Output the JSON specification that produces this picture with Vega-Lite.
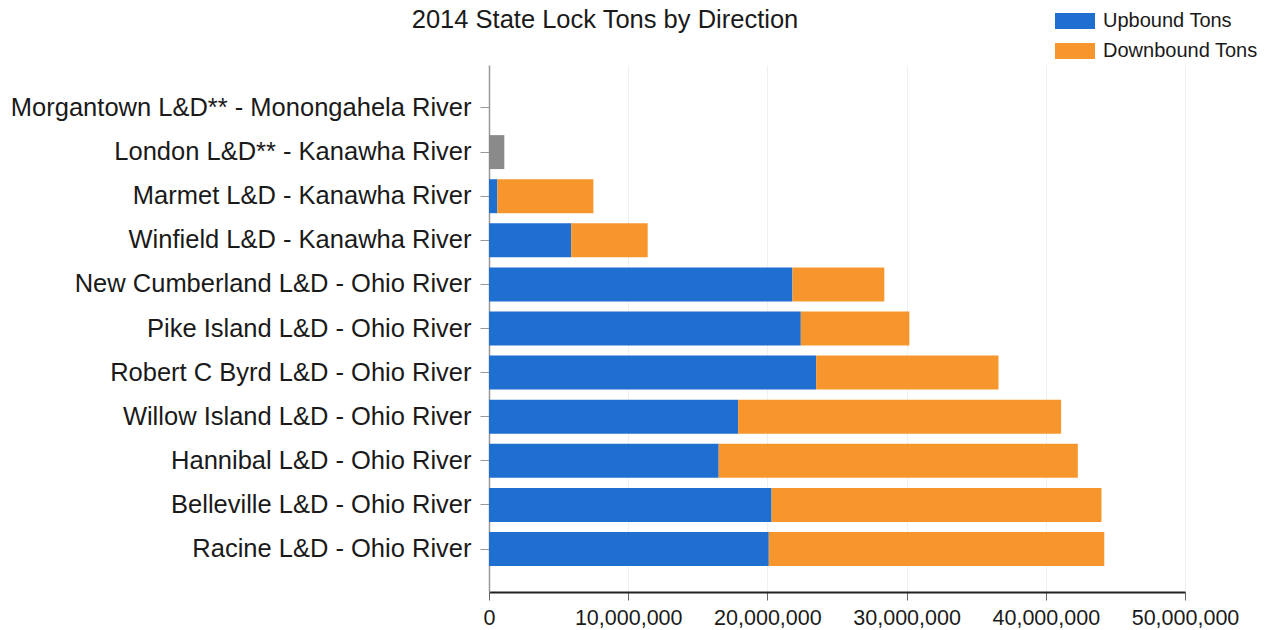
{
  "$schema": "https://vega.github.io/schema/vega-lite/v6.json",
  "autosize": "none",
  "width": 696,
  "height": 527,
  "padding": {"left": 489, "top": 65, "right": 84, "bottom": 38},
  "background": "white",
  "config": {"font": "Liberation Sans", "view": {"stroke": null}},
  "title": {
    "text": "2014 State Lock Tons by Direction",
    "fontSize": 25.5,
    "fontWeight": "normal",
    "color": "#1a1a1a",
    "anchor": "middle",
    "dx": -232,
    "offset": -32
  },
  "data": {
    "values": [
      {"lock": "Morgantown L&D** - Monongahela River", "direction": "Total Tons", "tons": 0},
      {"lock": "London L&D** - Kanawha River", "direction": "Total Tons", "tons": 1100000},
      {"lock": "Marmet L&D - Kanawha River", "direction": "Upbound Tons", "tons": 600000},
      {"lock": "Marmet L&D - Kanawha River", "direction": "Downbound Tons", "tons": 6900000},
      {"lock": "Winfield L&D - Kanawha River", "direction": "Upbound Tons", "tons": 5900000},
      {"lock": "Winfield L&D - Kanawha River", "direction": "Downbound Tons", "tons": 5500000},
      {"lock": "New Cumberland L&D - Ohio River", "direction": "Upbound Tons", "tons": 21800000},
      {"lock": "New Cumberland L&D - Ohio River", "direction": "Downbound Tons", "tons": 6600000},
      {"lock": "Pike Island L&D - Ohio River", "direction": "Upbound Tons", "tons": 22400000},
      {"lock": "Pike Island L&D - Ohio River", "direction": "Downbound Tons", "tons": 7800000},
      {"lock": "Robert C Byrd L&D - Ohio River", "direction": "Upbound Tons", "tons": 23500000},
      {"lock": "Robert C Byrd L&D - Ohio River", "direction": "Downbound Tons", "tons": 13100000},
      {"lock": "Willow Island L&D - Ohio River", "direction": "Upbound Tons", "tons": 17900000},
      {"lock": "Willow Island L&D - Ohio River", "direction": "Downbound Tons", "tons": 23200000},
      {"lock": "Hannibal L&D - Ohio River", "direction": "Upbound Tons", "tons": 16500000},
      {"lock": "Hannibal L&D - Ohio River", "direction": "Downbound Tons", "tons": 25800000},
      {"lock": "Belleville L&D - Ohio River", "direction": "Upbound Tons", "tons": 20300000},
      {"lock": "Belleville L&D - Ohio River", "direction": "Downbound Tons", "tons": 23700000},
      {"lock": "Racine L&D - Ohio River", "direction": "Upbound Tons", "tons": 20100000},
      {"lock": "Racine L&D - Ohio River", "direction": "Downbound Tons", "tons": 24100000}
    ]
  },
  "mark": {"type": "bar"},
  "encoding": {
    "y": {
      "field": "lock",
      "type": "nominal",
      "sort": [
        "Morgantown L&D** - Monongahela River",
        "London L&D** - Kanawha River",
        "Marmet L&D - Kanawha River",
        "Winfield L&D - Kanawha River",
        "New Cumberland L&D - Ohio River",
        "Pike Island L&D - Ohio River",
        "Robert C Byrd L&D - Ohio River",
        "Willow Island L&D - Ohio River",
        "Hannibal L&D - Ohio River",
        "Belleville L&D - Ohio River",
        "Racine L&D - Ohio River"
      ],
      "scale": {"paddingInner": 0.23, "paddingOuter": 0.59},
      "axis": {
        "title": null,
        "labelFontSize": 25.5,
        "labelColor": "#1a1a1a",
        "labelLimit": 600,
        "labelPadding": 9,
        "tickSize": 9,
        "tickColor": "#999999",
        "domainColor": "#999999",
        "domainWidth": 1.5
      }
    },
    "x": {
      "field": "tons",
      "type": "quantitative",
      "stack": "zero",
      "scale": {"domain": [0, 50000000], "nice": false},
      "axis": {
        "title": null,
        "values": [0, 10000000, 20000000, 30000000, 40000000, 50000000],
        "format": ",d",
        "labelFontSize": 21.5,
        "labelColor": "#1a1a1a",
        "labelPadding": 7,
        "labelFlush": false,
        "tickSize": 8,
        "tickColor": "#666666",
        "domainColor": "#222222",
        "domainWidth": 2,
        "grid": true,
        "gridColor": "#f0f0f0"
      }
    },
    "color": {
      "field": "direction",
      "type": "nominal",
      "scale": {
        "domain": ["Upbound Tons", "Downbound Tons", "Total Tons"],
        "range": ["#1f6fd1", "#f7962d", "#8a8a8a"]
      },
      "legend": {
        "title": null,
        "values": ["Upbound Tons", "Downbound Tons"],
        "orient": "none",
        "legendX": 566,
        "legendY": -64,
        "symbolType": "M-1,-0.4L1,-0.4L1,0.4L-1,0.4Z",
        "symbolSize": 1600,
        "symbolStrokeWidth": 0,
        "labelFontSize": 20,
        "labelColor": "#1a1a1a",
        "rowPadding": 0,
        "labelOffset": 8
      }
    },
    "order": {"field": "direction", "sort": "descending"}
  }
}
